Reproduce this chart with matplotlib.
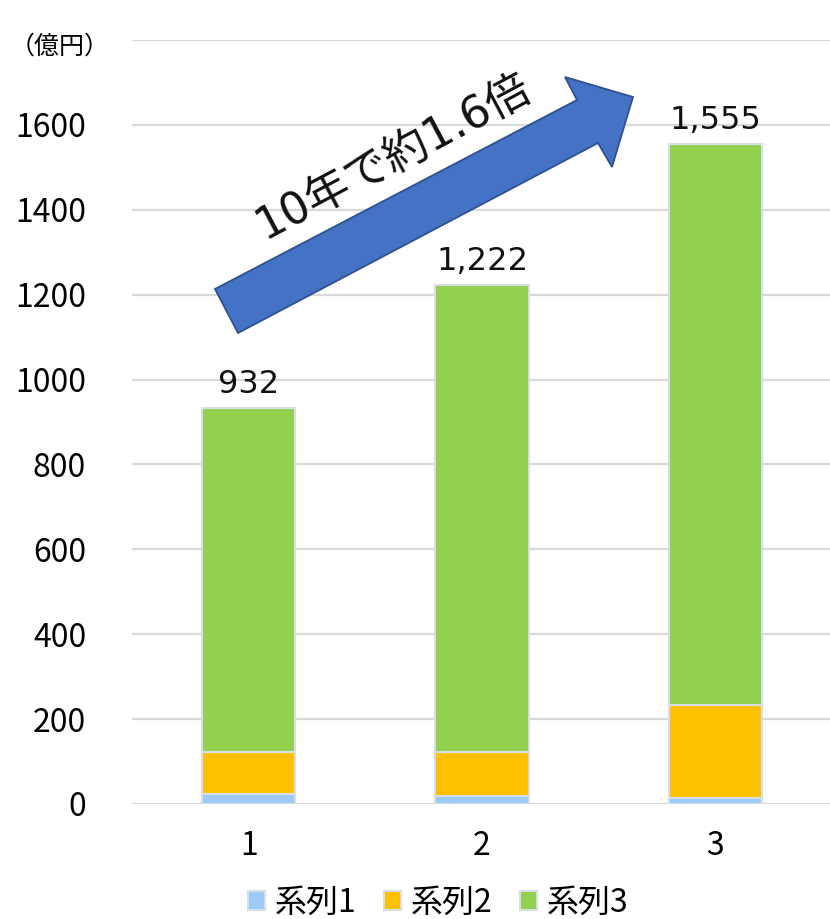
import matplotlib
matplotlib.use("Agg")
import matplotlib.pyplot as plt
from matplotlib.patches import Polygon
import numpy as np

plt.rcParams['font.family'] = ['Noto Sans CJK JP', 'DejaVu Sans']

categories = ['1', '2', '3']
series1 = [24, 18, 14]
series2 = [98, 104, 219]
series3 = [810, 1100, 1322]
totals = [932, 1222, 1555]
total_labels = ['932', '1,222', '1,555']
series_names = ['系列1', '系列2', '系列3']
colors = ['#9DC9FB', '#FFC000', '#92D050']
yticks = [0, 200, 400, 600, 800, 1000, 1200, 1400, 1600]

W, H = 830, 919
fig = plt.figure(figsize=(W / 100, H / 100), dpi=100)
ax = fig.add_axes([132 / W, (H - 804) / H, (832 - 132) / W, (804 - 40) / H])

x = np.arange(len(categories))
bw = 0.4
edge = '#D6DEE8'
b1 = ax.bar(x, series1, bw, color=colors[0], edgecolor=edge, linewidth=1.5, label=series_names[0], zorder=3)
b2 = ax.bar(x, series2, bw, bottom=series1, color=colors[1], edgecolor=edge, linewidth=1.5, label=series_names[1], zorder=3)
bot3 = np.array(series1) + np.array(series2)
b3 = ax.bar(x, series3, bw, bottom=bot3, color=colors[2], edgecolor=edge, linewidth=1.5, label=series_names[2], zorder=3)

for xi, t, lab in zip(x, totals, total_labels):
    ax.annotate(lab, (xi, t), xytext=(0, 6), textcoords='offset points',
                ha='center', va='bottom', fontsize=23, color='#111111', zorder=5,
                family=['DejaVu Sans'])

ax.set_xlim(-0.5, len(categories) - 0.5)
ax.set_ylim(0, 1800)
ax.set_yticks(yticks)
ax.set_yticks([1800], minor=True)
ax.set_yticklabels([str(v) for v in yticks], fontsize=23)
ax.set_xticks(x)
ax.set_xticklabels(categories, fontsize=23)
ax.grid(axis='y', which='both', color='#D9D9D9', linewidth=1.6, zorder=0)
ax.tick_params(axis='y', which='both', length=0, pad=33)
ax.tick_params(axis='x', length=0, pad=19)
for s in ax.spines.values():
    s.set_visible(False)

fig.text(10 / W, 1 - 47 / H, '（億円）', fontsize=18, ha='left', va='center')

# arrow (pixel coordinates of the image, y down)
pts = [(215, 289), (238, 333), (598, 143), (612, 167), (633, 97), (565, 77), (577, 100)]
poly = Polygon([(px / W, 1 - py / H) for px, py in pts], closed=True,
               transform=fig.transFigure, facecolor='#4472C4', edgecolor='#2F528F',
               linewidth=1.3, zorder=10)
fig.patches.append(poly)
fig.text(393 / W, 1 - 157 / H, '10年で約1.6倍', fontsize=32, rotation=28,
         rotation_mode='anchor', ha='center', va='center', color='#111111', zorder=11,
         family=['DejaVu Sans', 'Noto Sans CJK JP'])

leg = fig.legend(handles=[b1, b2, b3], labels=series_names, loc='center',
                 bbox_to_anchor=(438 / W, 1 - 903 / H), ncol=3, frameon=False,
                 fontsize=23, handlelength=0.55, handleheight=0.55, handletextpad=0.3,
                 columnspacing=0.85)

fig.savefig('out.png', dpi=100)
